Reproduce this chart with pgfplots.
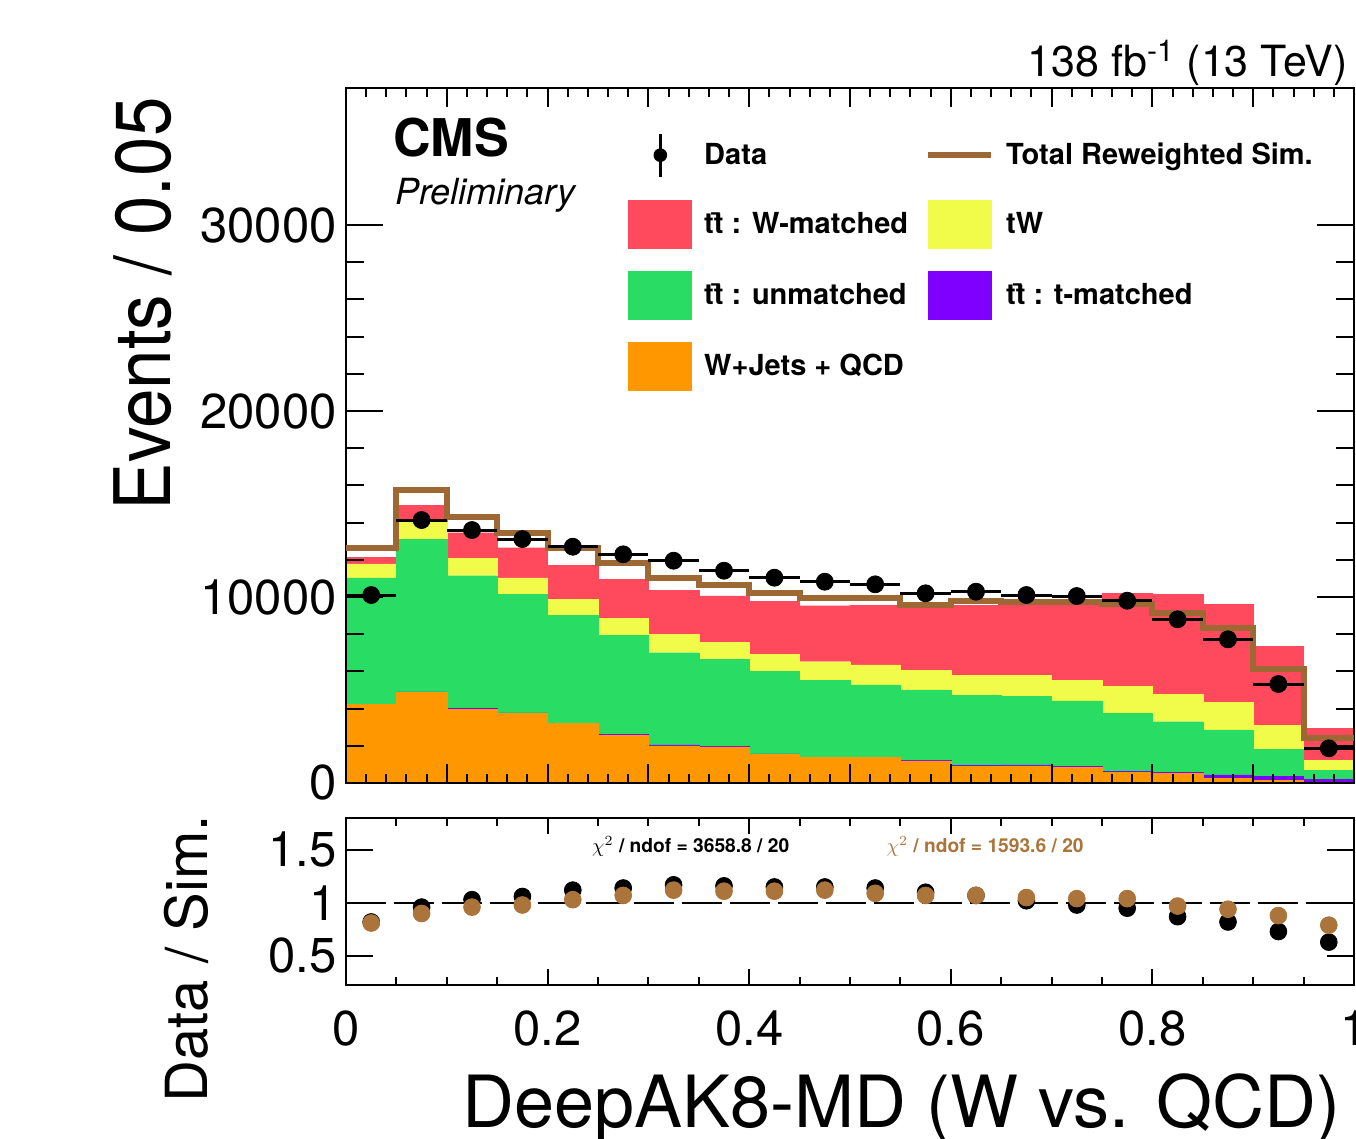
\documentclass[border=0pt]{standalone}
\usepackage{graphicx}
\usepackage{pgfplots}
\usepackage{pgfplotstable}
\pgfplotsset{compat=1.18}
\usepackage{fontspec}
\setmainfont{TeX Gyre Heros}

\definecolor{cred}{RGB}{255,74,94}
\definecolor{cgreen}{RGB}{41,220,99}
\definecolor{cyellow}{RGB}{241,252,74}
\definecolor{cpurple}{RGB}{128,0,255}
\definecolor{corange}{RGB}{255,152,0}
\definecolor{cbrown}{RGB}{158,104,52}
\definecolor{cbrownpt}{RGB}{170,116,58}

\pgfplotsset{
  boxleg/.style={legend image code/.code={\fill[#1] (0pt,-12pt) rectangle (31.5pt,12pt);}},
}

% x = bin centre; O = W+Jets+QCD, P = tt t-matched, G = tt unmatched, Y = tW, R = tt W-matched, D = data
\pgfplotstableread{
x O P G Y R D
0.025 4230 15 6790 740 360 10107
0.075 4880 15 8210 910 930 14139
0.125 3965 50 7130 935 1375 13601
0.175 3750 15 6380 890 1615 13117
0.225 3195 15 5820 845 1845 12703
0.275 2570 50 5335 900 2095 12295
0.325 2000 45 4960 1005 2330 11951
0.375 1940 15 4695 895 2510 11414
0.425 1545 15 4460 900 2865 11037
0.475 1365 15 4155 985 3010 10822
0.525 1365 15 3890 1075 3225 10682
0.575 1185 15 3800 1075 3315 10198
0.625 880 50 3800 1075 3765 10284
0.675 920 50 3705 1130 3855 10107
0.725 830 50 3530 1090 4160 10053
0.775 560 50 3135 1435 5020 9801
0.825 530 60 2705 1470 5395 8800
0.875 250 180 2420 1470 5290 7725
0.925 160 180 1470 1305 4245 5322
0.975 10 190 465 535 1740 1864
}\stacktab

% total reweighted simulation, left bin edges
\pgfplotstableread{
xl B
0.00 12617
0.05 15752
0.10 14317
0.15 13456
0.20 12617
0.25 11811
0.30 11004
0.35 10645
0.40 10231
0.45 9929
0.50 9929
0.55 9570
0.60 9801
0.65 9747
0.70 9747
0.75 9623
0.80 9123
0.85 8316
0.90 6113
0.95 2401
1.00 2401
}\browntab

\pgfplotstableread{
x Rb Rr
0.025 0.82 0.81
0.075 0.96 0.90
0.125 1.03 0.96
0.175 1.06 0.98
0.225 1.12 1.03
0.275 1.14 1.07
0.325 1.17 1.12
0.375 1.16 1.11
0.425 1.15 1.11
0.475 1.15 1.12
0.525 1.14 1.09
0.575 1.10 1.07
0.625 1.07 1.07
0.675 1.02 1.05
0.725 0.98 1.04
0.775 0.95 1.04
0.825 0.87 0.97
0.875 0.82 0.94
0.925 0.73 0.88
0.975 0.63 0.79
}\ratiotab

\newcommand{\ttb}{t\={t}}

\begin{document}
\begin{tikzpicture}
% ---------- stacked histogram ----------
\begin{axis}[at={(173pt,178pt)},anchor=south west,width=504pt,height=347.5pt,scale only axis,
  xmin=0,xmax=1,ymin=0,ymax=37370,hide axis,ybar stacked,bar width=0.05]
\addplot[fill=corange,draw=corange,line width=0.2pt] table[x=x,y=O]{\stacktab};
\addplot[fill=cpurple,draw=cpurple,line width=0.2pt] table[x=x,y=P]{\stacktab};
\addplot[fill=cgreen,draw=cgreen,line width=0.2pt] table[x=x,y=G]{\stacktab};
\addplot[fill=cyellow,draw=cyellow,line width=0.2pt] table[x=x,y=Y]{\stacktab};
\addplot[fill=cred,draw=cred,line width=0.2pt] table[x=x,y=R]{\stacktab};
\end{axis}
% ---------- main frame, data, reweighted total ----------
\begin{axis}[at={(173pt,178pt)},anchor=south west,width=504pt,height=347.5pt,scale only axis,
  xmin=0,xmax=1,ymin=0,ymax=37370,clip mode=individual,
  scaled y ticks=false,scaled x ticks=false,
  xtick={0,0.1,0.2,0.3,0.4,0.5,0.6,0.7,0.8,0.9,1},xticklabels={},minor x tick num=4,
  ytick={0,10000,20000,30000},yticklabels={0,10000,20000,30000},minor y tick num=4,
  major tick length=18.5pt,minor tick length=9pt,
  xtick style={/pgfplots/major tick length=9.5pt,/pgfplots/minor tick length=4.5pt},
  tick style={black,line width=1pt},
  axis line style={line width=1pt},
  /pgf/number format/assume math mode=true,
  yticklabel style={font=\fontsize{24.5}{26}\selectfont,inner sep=0pt,xshift=-4.5pt},
  ylabel={\scalebox{0.91}[1]{Events / 0.05}},
  ylabel style={at={(axis description cs:-0.2014,0.987)},anchor=east,font=\fontsize{39}{44}\selectfont,inner sep=0pt},
  legend columns=2,
  legend cell align=left,
  legend style={at={(axis description cs:0.2798,0.937)},anchor=north west,draw=none,fill=none,inner sep=0pt,
    font=\fontsize{14.5}{17}\bfseries\selectfont,row sep=11pt,
    /tikz/every odd column/.append style={column sep=4pt},
    /tikz/every even column/.append style={column sep=6.5pt}},
]
\addplot[forget plot,const plot mark left,cbrown,line width=3pt] table[x=xl,y=B]{\browntab};
\addplot[forget plot,only marks,mark=*,mark size=4.25pt,black,
  error bars/.cd,x dir=both,x fixed=0.025,error mark=none,error bar style={line width=1.5pt,black}]
  table[x=x,y=D]{\stacktab};

\addlegendimage{legend image code/.code={\path[draw=none,fill=none] (0pt,0pt) rectangle (31.5pt,0.1pt);\draw[black,line width=1.5pt] (15.75pt,-10.75pt) -- (15.75pt,10.75pt);\fill[black] (15.75pt,0pt) circle (3.2pt);}}
\addlegendentry{Data}
\addlegendimage{legend image code/.code={\draw[cbrown,line width=3pt] (0pt,0pt) -- (31.5pt,0pt);}}
\addlegendentry{Total Reweighted Sim.}
\addlegendimage{boxleg=cred}
\addlegendentry{\ttb\ : W-matched}
\addlegendimage{boxleg=cyellow}
\addlegendentry{tW}
\addlegendimage{boxleg=cgreen}
\addlegendentry{\ttb\ : unmatched}
\addlegendimage{boxleg=cpurple}
\addlegendentry{\ttb\ : t-matched}
\addlegendimage{boxleg=corange}
\addlegendentry{W+Jets + QCD}

\node[anchor=base west,font=\fontsize{26}{30}\bfseries\selectfont,inner sep=0pt] at (axis description cs:0.0466,0.9007) {CMS};
\node[anchor=base west,font=\fontsize{18}{22}\itshape\selectfont,inner sep=0pt] at (axis description cs:0.0486,0.833) {Preliminary};
\node[anchor=base east,font=\fontsize{21.5}{24}\selectfont,inner sep=0pt] at (axis description cs:0.994,1.0158) {138 fb\textsuperscript{-1} (13 TeV)};
\end{axis}
% ---------- ratio panel ----------
\begin{axis}[at={(173pt,77pt)},anchor=south west,width=504pt,height=83.5pt,scale only axis,
  xmin=0,xmax=1,ymin=0.226,ymax=1.80,clip mode=individual,
  xtick={0,0.2,0.4,0.6,0.8,1},xticklabels={0,0.2,0.4,0.6,0.8,1},minor x tick num=3,
  ytick={0.5,1,1.5},yticklabels={0.5,1,1.5},
  major tick length=13.5pt,minor tick length=4pt,
  xtick style={/pgfplots/major tick length=8pt,/pgfplots/minor tick length=4pt},
  tick style={black,line width=1pt},
  axis line style={line width=1pt},
  /pgf/number format/assume math mode=true,
  yticklabel style={font=\fontsize{24.5}{26}\selectfont,inner sep=0pt,xshift=-4.5pt},
  xticklabel style={font=\fontsize{24.5}{26}\selectfont,inner sep=0pt,yshift=-12.5pt},
  xlabel={DeepAK8-MD (W vs. QCD)},
  xlabel style={at={(axis description cs:0.987,-0.856)},anchor=base east,font=\fontsize{36}{40}\selectfont,inner sep=0pt},
  ylabel={Data / Sim.},
  ylabel style={at={(axis description cs:-0.158,1.018)},anchor=east,font=\fontsize{29}{34}\selectfont,inner sep=0pt},
]
\addplot[black,line width=1pt,dash pattern=on 20pt off 4pt] coordinates {(0,1) (1,1)};
\addplot[only marks,mark=*,mark size=4.2pt,black] table[x=x,y=Rb]{\ratiotab};
\addplot[only marks,mark=*,mark size=4.2pt,cbrownpt,mark options={draw=cbrownpt,fill=cbrownpt}] table[x=x,y=Rr]{\ratiotab};
\node[font=\fontsize{9.6}{11}\bfseries\selectfont,text=black] at (axis description cs:0.342,0.83) {$\chi^{2}$ / ndof = 3658.8 / 20};
\node[font=\fontsize{9.6}{11}\bfseries\selectfont,text=cbrownpt] at (axis description cs:0.634,0.83) {$\chi^{2}$ / ndof = 1593.6 / 20};
\end{axis}
\pgfresetboundingbox
\useasboundingbox (0,0) rectangle (678pt,569.5pt);
\end{tikzpicture}
\end{document}
